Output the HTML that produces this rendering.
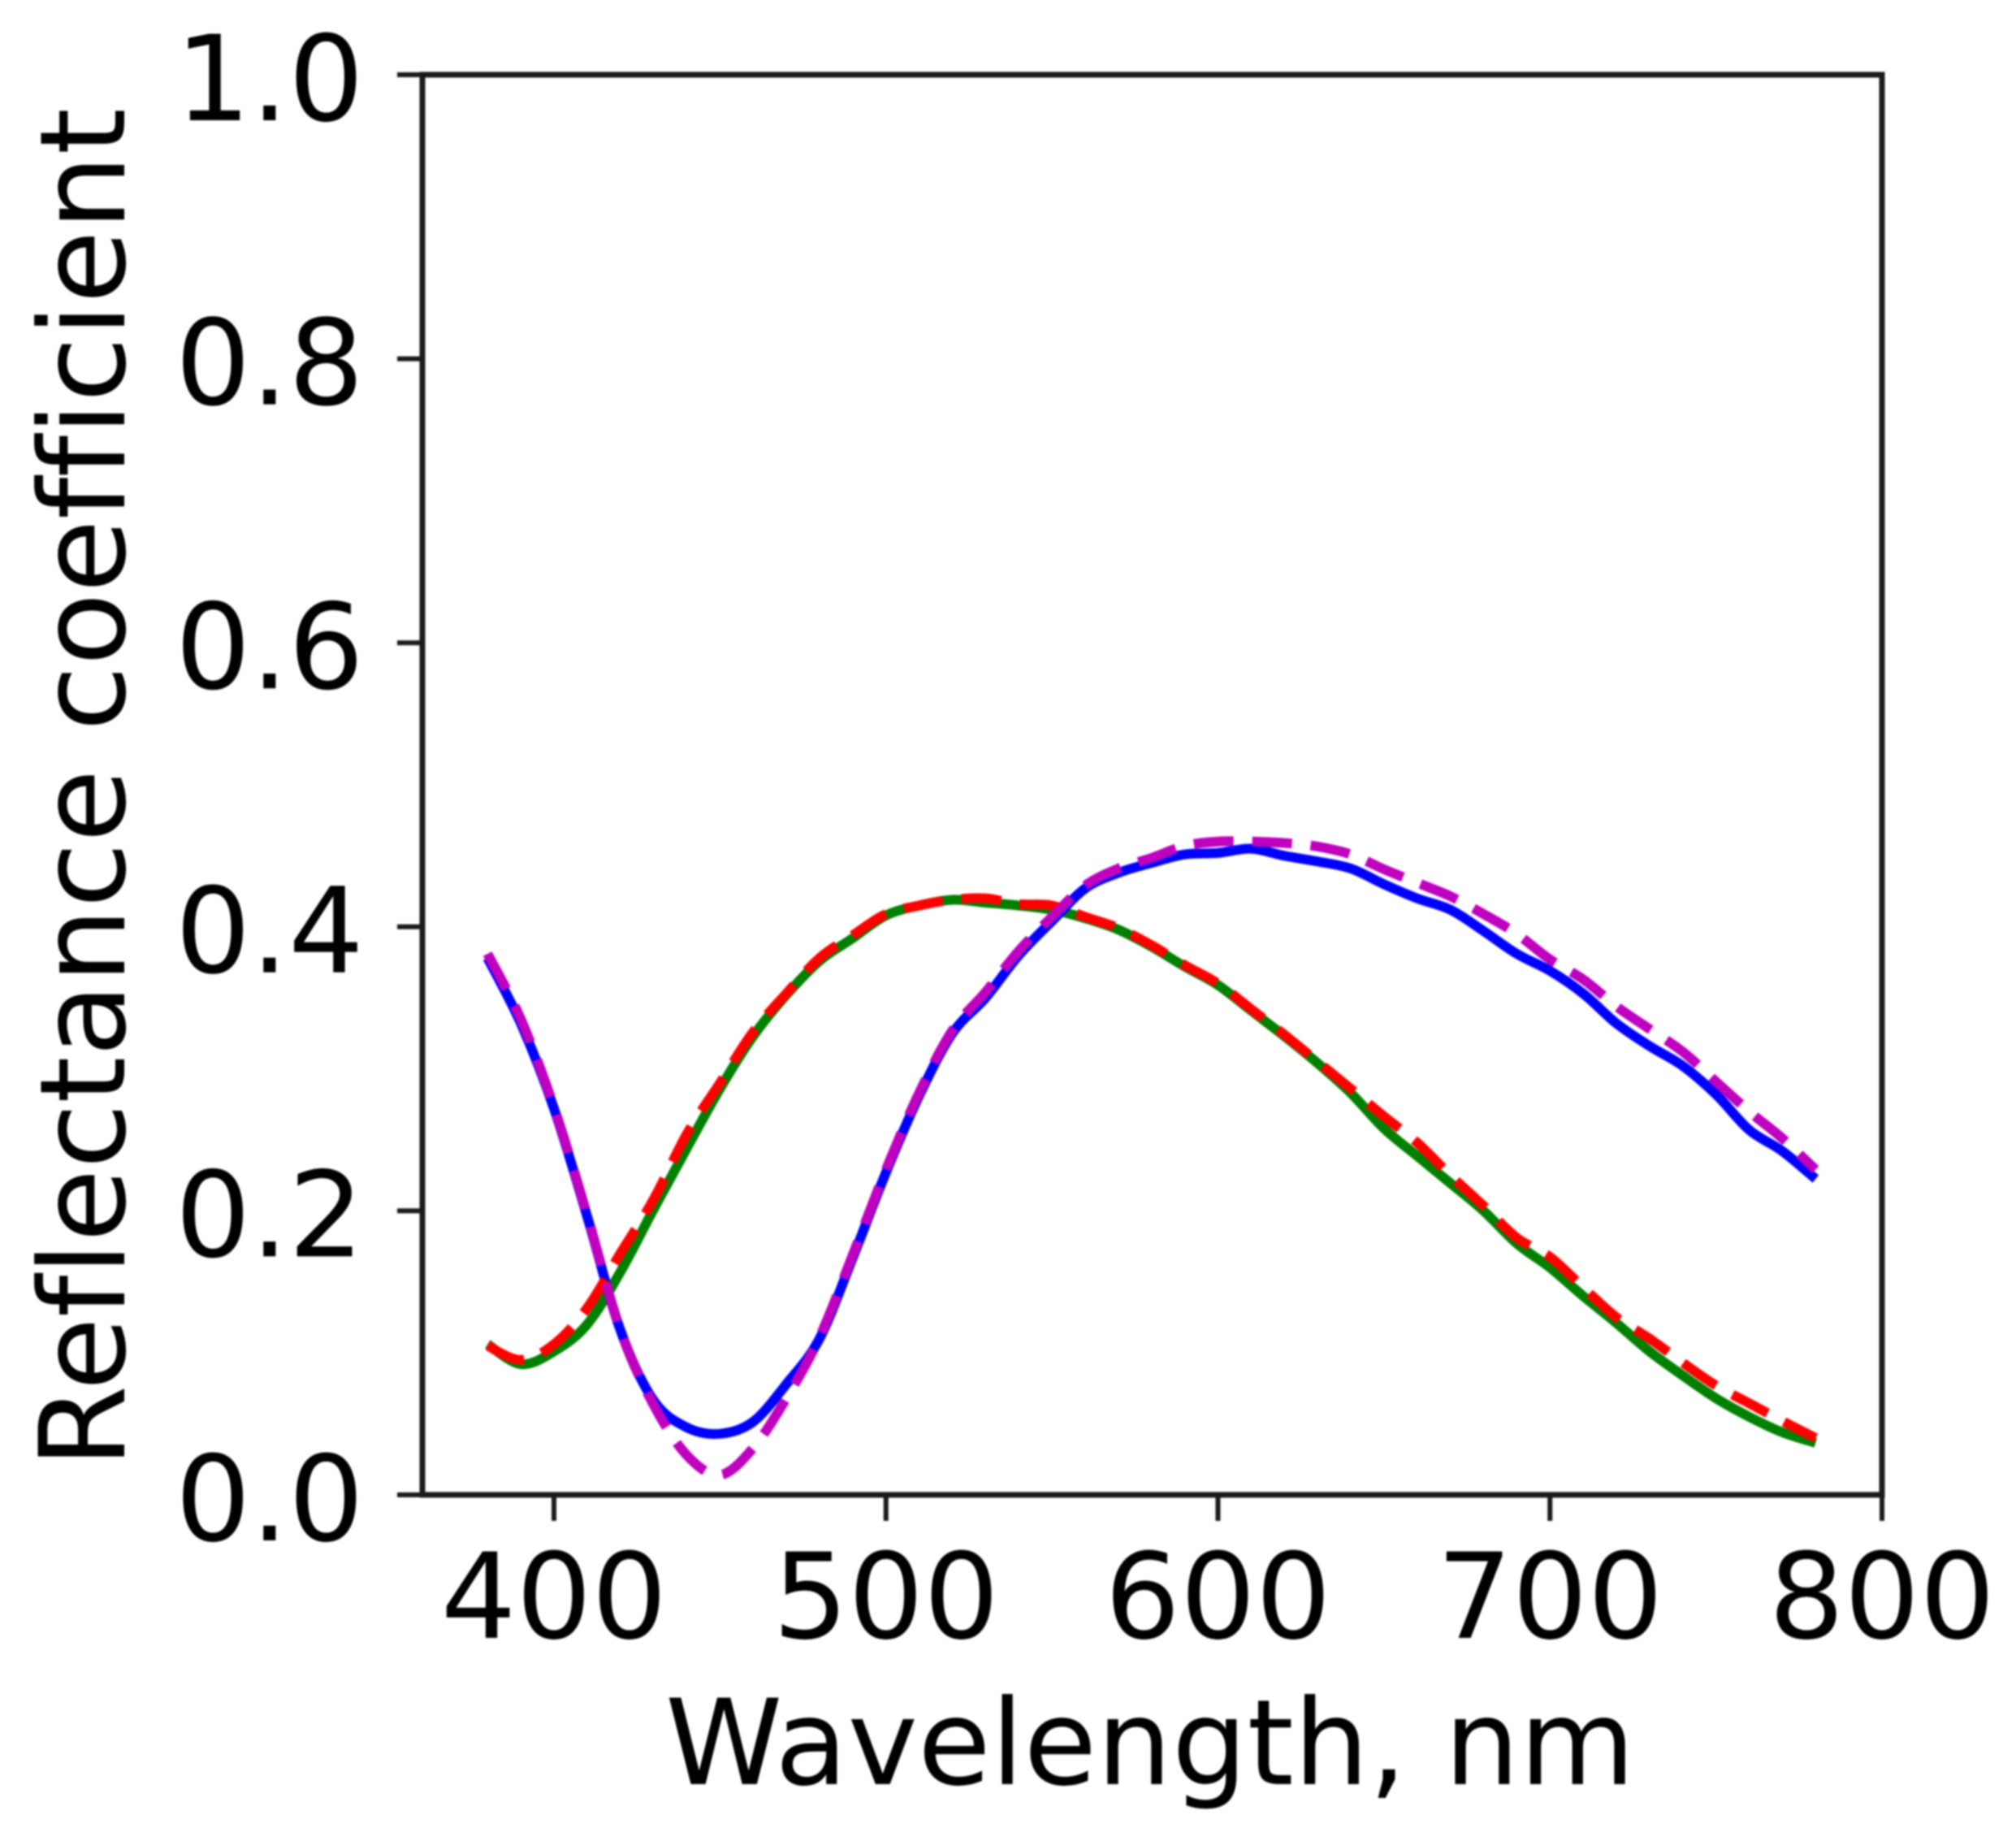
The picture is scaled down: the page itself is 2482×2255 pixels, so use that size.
<!DOCTYPE html>
<html lang="en">
<head>
<meta charset="utf-8">
<title>Reflectance coefficient vs wavelength</title>
<style>
  html, body { margin: 0; padding: 0; background: #fff; }
  svg { display: block; }
  text { font-family: "DejaVu Sans", "Liberation Sans", sans-serif; fill: #000; font-variant-ligatures: none; }
</style>
</head>
<body>
<svg id="chart" xmlns="http://www.w3.org/2000/svg" width="2482" height="2255" viewBox="0 0 2482 2255">
  <rect x="0" y="0" width="2482" height="2255" fill="#fff"/>
  <g id="series" style="filter:blur(1px)"></g>
  <g id="axes" style="filter:blur(1px)"></g>
  <g style="filter:blur(1px)">
    <text x="1416" y="2196" font-size="146" text-anchor="middle" textLength="1194" lengthAdjust="spacingAndGlyphs">Wavelength, nm</text>
    <text transform="translate(153,970) rotate(-90)" font-size="146" text-anchor="middle" textLength="1674" lengthAdjust="spacingAndGlyphs">Reflectance coefficient</text>
  </g>
</svg>
<script>
const wavelengths = [380,390,400,410,420,430,440,450,460,470,480,490,500,510,520,530,540,550,560,570,580,590,600,610,620,630,640,650,660,670,680,690,700,710,720,730,740,750,760,770,780];
const blueValues = [.378,.332,.272,.196,.116,.0665,.0475,.043,.0515,.078,.110,.167,.227,.281,.325,.350,.380,.404,.427,.438,.445,.451,.452,.455,.450,.446,.441,.430,.420,.412,.397,.381,.369,.353,.332,.316,.302,.282,.257,.242,.2225];
const magentaValues = [.381,.335,.273,.197,.116,.0635,.028,.014,.033,.068,.111,.169,.229,.283,.327,.354,.383,.407,.429,.441,.4485,.457,.460,.460,.459,.4565,.451,.4405,.431,.4215,.409,.395,.377,.363,.344,.328,.312,.291,.270,.251,.229];
const greenValues = [.106,.092,.101,.120,.157,.201,.244,.286,.323,.352,.376,.392,.408,.415,.419,.417,.415,.412,.406,.398,.386,.372,.359,.341,.323,.304,.283,.258,.2386,.2195,.200,.177,.160,.140,.121,.101,.084,.068,.055,.044,.0366];
const redValues = [.105,.095,.106,.1316,.170,.208,.254,.290,.326,.353,.378,.394,.409,.415,.419,.420,.416,.415,.407,.399,.387,.373,.360,.342,.324,.305,.286,.2665,.248,.225,.2035,.181,.1675,.146,.125,.110,.093,.077,.0645,.052,.040];
const xTicks = [400,500,600,700,800];
const yTicks = [0,0.2,0.4,0.6,0.8,1.0];

const NS = 'http://www.w3.org/2000/svg';
const plotLeft = 520, plotRight = 2317, plotTop = 92, plotBottom = 1840;
const xMin = 360.36, xMax = 800, yMin = 0, yMax = 1;
function xScale(v) { return plotLeft + (v - xMin) / (xMax - xMin) * (plotRight - plotLeft); }
function yScale(v) { return plotBottom - (v - yMin) / (yMax - yMin) * (plotBottom - plotTop); }

const seriesGroup = document.getElementById('series');
const axesGroup = document.getElementById('axes');

function smoothPath(values) {
  const pts = values.map(function (v, i) { return [xScale(wavelengths[i]), yScale(v)]; });
  let d = 'M' + pts[0][0].toFixed(1) + ' ' + pts[0][1].toFixed(1);
  for (let i = 0; i < pts.length - 1; i++) {
    const p0 = pts[Math.max(i - 1, 0)];
    const p1 = pts[i];
    const p2 = pts[i + 1];
    const p3 = pts[Math.min(i + 2, pts.length - 1)];
    const c1x = p1[0] + (p2[0] - p0[0]) / 6;
    const c1y = p1[1] + (p2[1] - p0[1]) / 6;
    const c2x = p2[0] - (p3[0] - p1[0]) / 6;
    const c2y = p2[1] - (p3[1] - p1[1]) / 6;
    d += ' C' + c1x.toFixed(1) + ' ' + c1y.toFixed(1) + ' ' + c2x.toFixed(1) + ' ' + c2y.toFixed(1) + ' ' + p2[0].toFixed(1) + ' ' + p2[1].toFixed(1);
  }
  return d;
}

function drawSeries(values, color, width, dash, name) {
  const p = document.createElementNS(NS, 'path');
  p.setAttribute('d', smoothPath(values));
  p.setAttribute('fill', 'none');
  p.setAttribute('stroke', color);
  p.setAttribute('stroke-width', width);
  p.setAttribute('stroke-linejoin', 'round');
  if (dash) p.setAttribute('stroke-dasharray', dash);
  
  
  seriesGroup.appendChild(p);
}
drawSeries(greenValues, '#008000', 12, null, 'green-solid-line');
drawSeries(blueValues, '#0000ff', 12, null, 'blue-solid-line');
drawSeries(redValues, '#ff0000', 12, '49 23', 'red-dashed-line');
drawSeries(magentaValues, '#bf00bf', 12, '49 23', 'magenta-dashed-line');

function drawLine(x1, y1, x2, y2, width, name) {
  const l = document.createElementNS(NS, 'line');
  l.setAttribute('x1', x1);
  l.setAttribute('y1', y1);
  l.setAttribute('x2', x2);
  l.setAttribute('y2', y2);
  l.setAttribute('stroke', '#1a1a1a');
  l.setAttribute('stroke-width', width);
  
  
  axesGroup.appendChild(l);
}
function drawLabel(x, y, anchor, str, name) {
  const t = document.createElementNS(NS, 'text');
  t.setAttribute('x', x);
  t.setAttribute('y', y);
  t.setAttribute('font-size', '146');
  t.setAttribute('text-anchor', anchor);
  t.textContent = str;
  
  
  axesGroup.appendChild(t);
}

drawLine(plotLeft, plotTop - 3.5, plotLeft, plotBottom + 3.5, 7, 'left-spine');
drawLine(plotRight, plotTop - 3.5, plotRight, plotBottom + 3.5, 7, 'right-spine');
drawLine(plotLeft, plotTop, plotRight, plotTop, 7, 'top-spine');
drawLine(plotLeft, plotBottom, plotRight, plotBottom, 7, 'bottom-spine');

xTicks.forEach(function (v) {
  const x = xScale(v);
  drawLine(x, plotBottom, x, plotBottom + 32, 6, 'x-tick-' + v);
  drawLabel(x, 2016, 'middle', String(v), 'x-tick-label-' + v);
});
yTicks.forEach(function (v) {
  const y = yScale(v);
  const s = v.toFixed(1);
  drawLine(plotLeft - 31, y, plotLeft, y, 6, 'y-tick-' + s);
  drawLabel(448, y + 56, 'end', s, 'y-tick-label-' + s);
});
</script>
</body>
</html>
